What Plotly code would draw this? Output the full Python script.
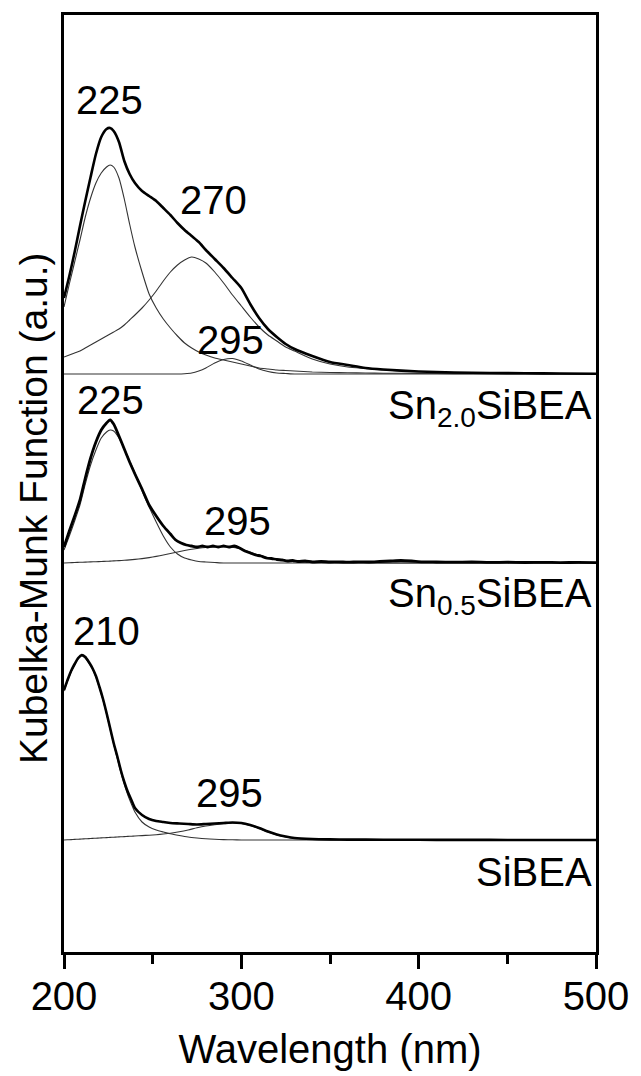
import plotly.graph_objects as go

# ---------------- data ----------------
# Sn2.0SiBEA: measured spectrum and fitted components (K-M units above baseline)
wl_sn20 = [200, 203, 206, 209, 212, 215, 218, 221, 224, 226, 228, 231, 234, 237, 240,
           244, 248, 252, 256, 260, 264, 268, 272, 276, 280, 285, 290, 295, 300, 305,
           310, 315, 320, 325, 330, 340, 350, 360, 370, 380, 400, 420, 440, 460, 480, 500]
km_sn20_total = [0.76, 0.98, 1.22, 1.48, 1.73, 1.97, 2.20, 2.37, 2.45, 2.46, 2.43, 2.32, 2.13, 2.00, 1.91,
                 1.83, 1.78, 1.73, 1.66, 1.59, 1.51, 1.44, 1.38, 1.32, 1.24, 1.15, 1.06, 0.96, 0.86, 0.70,
                 0.56, 0.45, 0.37, 0.30, 0.25, 0.18, 0.12, 0.09, 0.06, 0.045, 0.025, 0.015, 0.01, 0.008, 0.005, 0.003]
km_sn20_225 = [0.67, 0.90, 1.12, 1.34, 1.57, 1.76, 1.91, 2.01, 2.07, 2.09, 2.07, 1.96, 1.75, 1.50, 1.27,
               1.02, 0.80, 0.66, 0.55, 0.46, 0.38, 0.31, 0.26, 0.22, 0.19, 0.16, 0.14, 0.12, 0.10, 0.08,
               0.06, 0.05, 0.04, 0.035, 0.03, 0.02, 0.015, 0.012, 0.01, 0.008, 0.006, 0.004, 0.003, 0.002, 0.001, 0.0]
km_sn20_270 = [0.17, 0.19, 0.21, 0.23, 0.26, 0.29, 0.32, 0.35, 0.38, 0.40, 0.42, 0.45, 0.49, 0.54, 0.59,
               0.66, 0.74, 0.83, 0.93, 1.02, 1.09, 1.14, 1.17, 1.15, 1.11, 1.02, 0.91, 0.79, 0.68, 0.57,
               0.47, 0.39, 0.33, 0.27, 0.23, 0.15, 0.10, 0.07, 0.055, 0.04, 0.025, 0.015, 0.01, 0.007, 0.005, 0.003]
km_sn20_295 = [0.0, 0.0, 0.0, 0.0, 0.0, 0.0, 0.0, 0.0, 0.0, 0.0, 0.0, 0.0, 0.0, 0.0, 0.0,
               0.0, 0.0, 0.0, 0.0, 0.0, 0.0, 0.003, 0.01, 0.03, 0.06, 0.11, 0.145, 0.155, 0.13, 0.09,
               0.05, 0.025, 0.01, 0.005, 0.0, 0.0, 0.0, 0.0, 0.0, 0.0, 0.0, 0.0, 0.0, 0.0, 0.0, 0.0]

# Sn0.5SiBEA: measured spectrum (noisy) and fitted components
wl_sn05_meas = [200, 203, 206, 209, 212, 215, 218, 221, 224, 226, 228, 231, 234, 237, 240, 244, 248,
                252, 256, 260, 263, 266, 269, 272, 275, 278, 281, 284, 287, 290, 293, 296, 299, 302,
                305, 308, 311, 314, 317, 320, 323, 326, 329, 332, 336, 340, 345, 350, 355, 360, 366,
                372, 378, 384, 390, 396, 402, 410, 420, 430, 440, 450, 460, 470, 480, 490, 500]
km_sn05_total = [0.16, 0.32, 0.47, 0.63, 0.85, 1.05, 1.21, 1.33, 1.40, 1.43, 1.39, 1.27, 1.14, 1.01, 0.89, 0.74, 0.58,
                 0.47, 0.37, 0.29, 0.23, 0.20, 0.18, 0.17, 0.16, 0.17, 0.16, 0.17, 0.16, 0.17, 0.16, 0.17, 0.15, 0.12,
                 0.10, 0.08, 0.07, 0.05, 0.045, 0.035, 0.03, 0.02, 0.025, 0.015, 0.02, 0.01, 0.015, 0.01, 0.012, 0.008, 0.012,
                 0.01, 0.015, 0.02, 0.025, 0.02, 0.012, 0.01, 0.008, 0.01, 0.006, 0.008, 0.005, 0.007, 0.004, 0.006, 0.004]
wl_sn05_fit = [200, 203, 206, 209, 212, 215, 218, 221, 224, 226, 228, 231, 234, 237, 240,
               244, 248, 252, 256, 260, 264, 268, 272, 276, 280, 285, 290, 295, 300, 305,
               310, 315, 320, 325, 330, 340, 350, 360, 380, 400, 450, 500]
km_sn05_225 = [0.13, 0.27, 0.42, 0.58, 0.79, 0.98, 1.13, 1.25, 1.31, 1.33, 1.32, 1.25, 1.14, 1.02, 0.90,
               0.72, 0.56, 0.41, 0.27, 0.16, 0.09, 0.05, 0.03, 0.015, 0.01, 0.005, 0.0, 0.0, 0.0, 0.0,
               0.0, 0.0, 0.0, 0.0, 0.0, 0.0, 0.0, 0.0, 0.0, 0.0, 0.0, 0.0]
km_sn05_295 = [0.0, 0.003, 0.005, 0.007, 0.009, 0.011, 0.013, 0.015, 0.017, 0.019, 0.021, 0.024, 0.027, 0.031, 0.036,
               0.044, 0.054, 0.066, 0.080, 0.095, 0.110, 0.125, 0.138, 0.148, 0.155, 0.160, 0.162, 0.158, 0.140, 0.110,
               0.080, 0.055, 0.036, 0.022, 0.013, 0.005, 0.002, 0.0, 0.0, 0.0, 0.0, 0.0]

# SiBEA: measured spectrum and fitted components
wl_si = [200, 202, 204, 206, 208, 210, 212, 214, 216, 218, 220, 222, 224, 226, 228, 230, 232, 234,
         236, 238, 240, 244, 248, 252, 256, 260, 265, 270, 275, 280, 285, 290, 295, 300, 305, 310,
         315, 320, 325, 330, 340, 350, 360, 380, 400, 420, 440, 460, 480, 500]
km_si_total = [1.50, 1.60, 1.69, 1.76, 1.82, 1.85, 1.83, 1.78, 1.72, 1.64, 1.53, 1.41, 1.27, 1.12, 0.97, 0.84, 0.70, 0.58,
               0.48, 0.40, 0.32, 0.25, 0.21, 0.19, 0.18, 0.17, 0.165, 0.16, 0.155, 0.16, 0.165, 0.17, 0.175, 0.17, 0.15, 0.12,
               0.085, 0.055, 0.035, 0.02, 0.01, 0.006, 0.004, 0.003, 0.002, 0.001, 0.001, 0.0, 0.0, 0.0]
km_si_210 = [1.49, 1.59, 1.68, 1.75, 1.81, 1.84, 1.82, 1.77, 1.71, 1.63, 1.52, 1.40, 1.26, 1.11, 0.96, 0.82, 0.68, 0.56,
             0.45, 0.36, 0.28, 0.18, 0.13, 0.10, 0.08, 0.062, 0.045, 0.03, 0.02, 0.012, 0.007, 0.004, 0.002, 0.0, 0.0, 0.0,
             0.0, 0.0, 0.0, 0.0, 0.0, 0.0, 0.0, 0.0, 0.0, 0.0, 0.0, 0.0, 0.0, 0.0]
km_si_295 = [0.0, 0.002, 0.004, 0.006, 0.008, 0.010, 0.012, 0.014, 0.016, 0.018, 0.020, 0.022, 0.024, 0.026, 0.028, 0.030, 0.032, 0.034,
             0.036, 0.038, 0.040, 0.044, 0.048, 0.053, 0.06, 0.068, 0.082, 0.10, 0.122, 0.14, 0.153, 0.163, 0.17, 0.165, 0.145, 0.115,
             0.08, 0.05, 0.03, 0.018, 0.006, 0.002, 0.0, 0.0, 0.0, 0.0, 0.0, 0.0, 0.0, 0.0]

# vertical stacking offsets of each sample
offset_sn20 = 5.78
offset_sn05 = 3.89
offset_si = 1.12

FONT = "Arial, Liberation Sans, sans-serif"
THICK = dict(color="black", width=2.6)
THIN = dict(color="#333333", width=1.1)

fig = go.Figure()


def add_curve(x, y, off, line):
    fig.add_trace(go.Scatter(x=x, y=[v + off for v in y], mode="lines",
                             line=dict(shape="spline", smoothing=0.6, **line),
                             hoverinfo="skip", showlegend=False))


# fitted components first (thin), measured spectra on top (thick)
add_curve(wl_sn20, km_sn20_225, offset_sn20, THIN)
add_curve(wl_sn20, km_sn20_270, offset_sn20, THIN)
add_curve(wl_sn20, km_sn20_295, offset_sn20, THIN)
add_curve(wl_sn20, km_sn20_total, offset_sn20, THICK)

add_curve(wl_sn05_fit, km_sn05_225, offset_sn05, THIN)
add_curve(wl_sn05_fit, km_sn05_295, offset_sn05, THIN)
add_curve(wl_sn05_meas, km_sn05_total, offset_sn05, dict(color="black", width=2.8))

add_curve(wl_si, km_si_210, offset_si, THIN)
add_curve(wl_si, km_si_295, offset_si, THIN)
add_curve(wl_si, km_si_total, offset_si, THICK)

# peak and sample labels
peak_labels = [
    (225.7, 8.52, "225"), (284.2, 7.52, "270"), (294.0, 6.12, "295"),
    (226.0, 5.52, "225"), (298.0, 4.31, "295"),
    (224.0, 3.21, "210"), (293.5, 1.59, "295"),
]
for x, y, t in peak_labels:
    fig.add_annotation(x=x, y=y, text=t, showarrow=False, xanchor="center", yanchor="middle",
                       font=dict(family=FONT, size=40, color="black"))

sample_labels = [
    (5.44, "Sn<sub>2.0</sub>SiBEA"),
    (3.56, "Sn<sub>0.5</sub>SiBEA"),
    (0.80, "SiBEA"),
]
for y, t in sample_labels:
    fig.add_annotation(x=499, y=y, text=t, showarrow=False, xanchor="right", yanchor="middle",
                       font=dict(family=FONT, size=40, color="black"))

# y-axis title
fig.add_annotation(xref="paper", yref="paper", x=-0.056, y=0.474, text="Kubelka-Munk Function (a.u.)",
                   textangle=-90, showarrow=False, xanchor="center", yanchor="middle",
                   font=dict(family=FONT, size=39, color="black"))

fig.update_layout(
    width=641, height=1076,
    margin=dict(l=64, r=39, t=15, b=124),
    paper_bgcolor="white", plot_bgcolor="white",
    font=dict(family=FONT, size=40, color="black"),
    xaxis=dict(range=[200, 500], tickvals=[200, 300, 400, 500], ticks="outside",
               ticklen=14, tickwidth=3, tickcolor="black", ticklabelstandoff=-7,
               minor=dict(dtick=50, ticks="outside", ticklen=9, tickwidth=3, tickcolor="black"),
               showline=True, linewidth=3, linecolor="black", mirror=True,
               showgrid=False, zeroline=False,
               tickfont=dict(family=FONT, size=40),
               title=dict(text="Wavelength (nm)", font=dict(family=FONT, size=40), standoff=18)),
    yaxis=dict(range=[0, 9.37], showticklabels=False, ticks="",
               showline=True, linewidth=3, linecolor="black", mirror=True,
               showgrid=False, zeroline=False),
)

fig.write_html("out.html")
